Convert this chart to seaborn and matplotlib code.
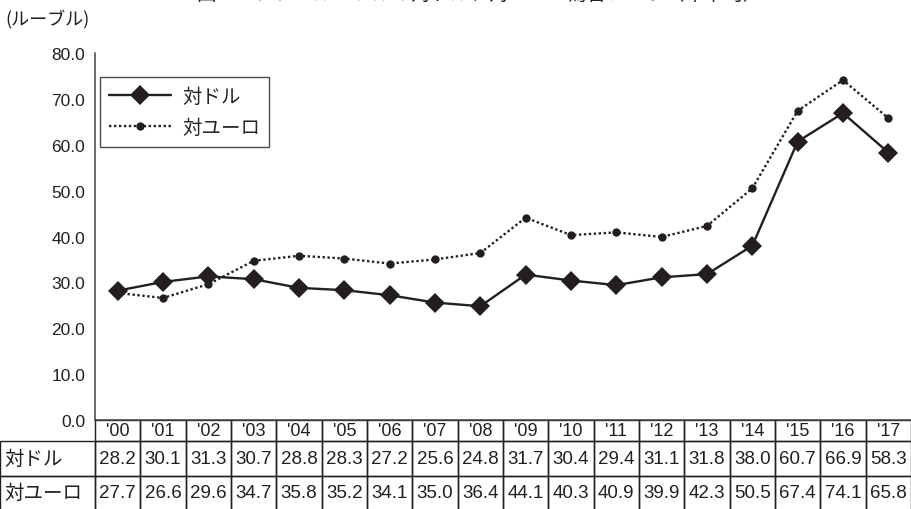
"""Ruble vs USD / EUR annual average exchange rate, line chart with data table."""

import pandas as pd
import matplotlib as mpl
import matplotlib.pyplot as plt
import seaborn as sns
from matplotlib import font_manager

years = ["'00", "'01", "'02", "'03", "'04", "'05", "'06", "'07", "'08",
         "'09", "'10", "'11", "'12", "'13", "'14", "'15", "'16", "'17"]
usd = [28.2, 30.1, 31.3, 30.7, 28.8, 28.3, 27.2, 25.6, 24.8,
       31.7, 30.4, 29.4, 31.1, 31.8, 38.0, 60.7, 66.9, 58.3]
eur = [27.7, 26.6, 29.6, 34.7, 35.8, 35.2, 34.1, 35.0, 36.4,
       44.1, 40.3, 40.9, 39.9, 42.3, 50.5, 67.4, 74.1, 65.8]
series_names = ["対ドル", "対ユーロ"]
yticks = [0, 10, 20, 30, 40, 50, 60, 70, 80]
unit_label = "(ルーブル)"
title = "図　ロシア・ルーブルの対ドル、対ユーロ為替レート（年平均）"

INK = "#231f20"

sns.set_theme(style="white")
installed = {f.name for f in font_manager.fontManager.ttflist}
narrow = "Liberation Sans Narrow" if "Liberation Sans Narrow" in installed else "Liberation Sans"
num_size = 16 if narrow == "Liberation Sans Narrow" else 13.5
JP = ["Noto Sans CJK JP", "DejaVu Sans"]
mpl.rcParams["font.family"] = ["Liberation Sans", "Noto Sans CJK JP", "DejaVu Sans"]

df = pd.DataFrame({
    "pos": list(range(len(years))) * 2,
    "value": usd + eur,
    "series": [series_names[0]] * len(usd) + [series_names[1]] * len(eur),
})

fig = plt.figure(figsize=(9.12, 5.10), dpi=100)
W, H = 912, 510
ax_l, ax_b, ax_w, ax_h = 95, 89, 816, 367
ax = fig.add_axes([ax_l / W, ax_b / H, ax_w / W, ax_h / H])

d_usd = df[df["series"] == series_names[0]]
d_eur = df[df["series"] == series_names[1]]
sns.lineplot(data=d_usd, x="pos", y="value", ax=ax, color=INK, lw=1.7,
             marker="D", markersize=10, markeredgewidth=0, label=series_names[0])
sns.lineplot(data=d_eur, x="pos", y="value", ax=ax, color=INK, lw=1.7,
             linestyle=(0, (1, 1.1)), marker="o", markersize=6,
             markeredgewidth=0, label=series_names[1])

ax.set_xlim(-0.5, len(years) - 0.5)
ax.set_ylim(0, 80)
ax.set_yticks(yticks)
ax.set_yticklabels([f"{v:.1f}" for v in yticks], fontsize=12.5)
ax.set_xticks([])
ax.set_xlabel("")
ax.set_ylabel("")
ax.tick_params(axis="y", length=0, pad=7, colors=INK)
for s in ["top", "right"]:
    ax.spines[s].set_visible(False)
for s in ["left", "bottom"]:
    ax.spines[s].set_color("#444444")
    ax.spines[s].set_linewidth(1.1)

leg = ax.legend(loc="upper left", bbox_to_anchor=(0.006, 0.935),
                prop={"family": JP, "size": 14}, frameon=True, fancybox=False,
                handlelength=3.2, borderpad=0.45, labelspacing=0.55,
                handletextpad=0.6, borderaxespad=0)
leg.get_frame().set_edgecolor(INK)
leg.get_frame().set_linewidth(1.0)

# data table under the plot: first column holds the row labels
label_w, col_w = 95, 45.33
head_h, row_h = 21, 34
cell_text = [[name] + [f"{v:.1f}" for v in vals]
             for name, vals in zip(series_names, [usd, eur])]
tab = ax.table(cellText=cell_text, colLabels=[""] + years,
               colWidths=[label_w] + [col_w] * len(years),
               cellLoc="center", colLoc="center",
               bbox=[-ax_l / ax_w, -(ax_b + 1) / ax_h,
                     (ax_l + ax_w) / ax_w, (ax_b + 1) / ax_h])
tab.auto_set_font_size(False)
for (r, c), cell in tab.get_celld().items():
    cell.set_facecolor("none")
    cell.set_edgecolor(INK)
    cell.set_linewidth(1.0)
    txt = cell.get_text()
    txt.set_color(INK)
    cell.set_height(head_h if r == 0 else row_h)
    if r == 0:
        txt.set_fontsize(13)
        txt.set_family(narrow)
        if c == 0:
            cell.set_visible(False)
    elif c == 0:
        txt.set_fontsize(14)
        txt.set_family(JP)
        txt.set_horizontalalignment("left")
        cell._loc = "left"
        cell.PAD = 0.05
    else:
        txt.set_fontsize(num_size)
        txt.set_family(narrow)

fig.text(5 / W, 1 - 20 / H, unit_label, family=JP, fontsize=13, color=INK,
         ha="left", va="center")
fig.text(480 / W, 1 - 5 / H, title, family=JP, fontsize=14, color=INK,
         ha="center", va="bottom")

fig.savefig("out.png", dpi=100)
